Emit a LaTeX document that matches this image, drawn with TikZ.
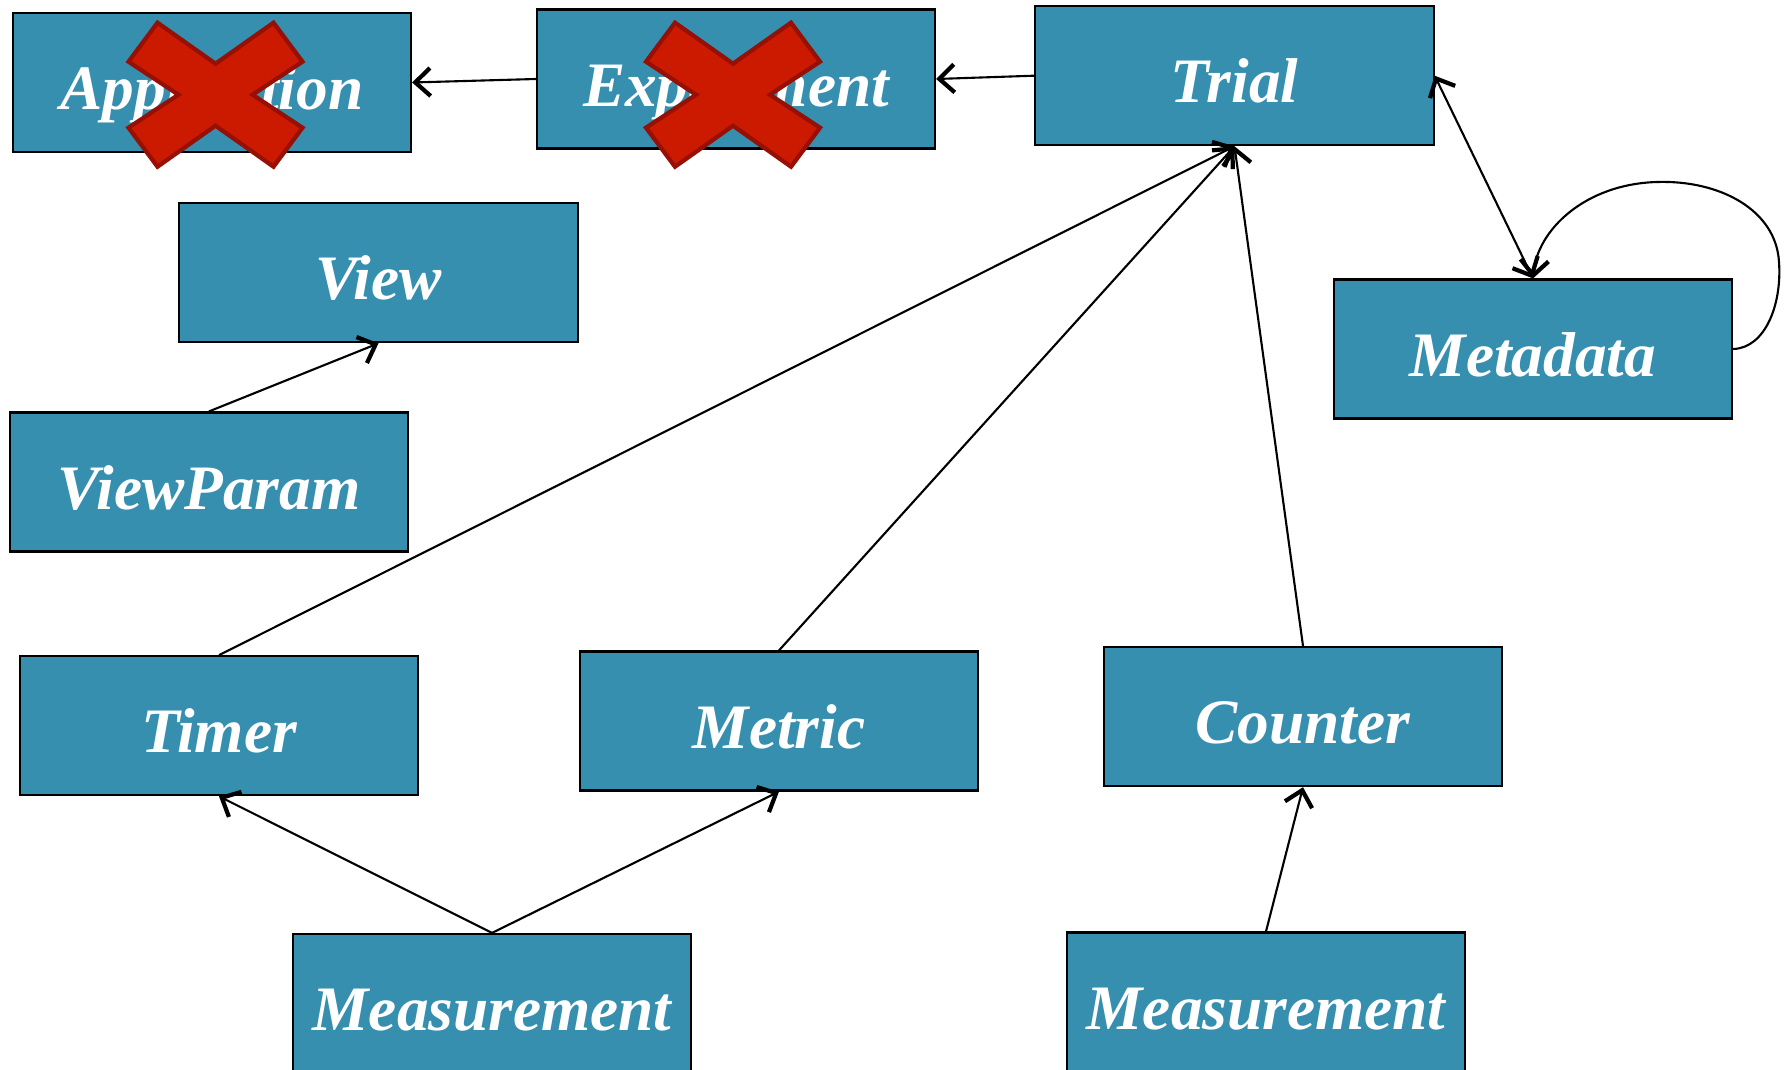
\documentclass[tikz,border=0pt]{standalone}
\usepackage{fontspec}
\setmainfont{Liberation Serif}
\usetikzlibrary{arrows.meta}
\definecolor{boxfill}{RGB}{54,143,175}
\definecolor{xfill}{RGB}{204,26,0}
\definecolor{xedge}{RGB}{150,16,6}

\begin{document}
\begin{tikzpicture}[x=0.01cm,y=-0.01cm,
  cls/.style={draw=black, line width=0.6pt, fill=boxfill,
    minimum width=3.98cm, minimum height=1.39cm, inner sep=0pt,
    text height=0.54cm, text depth=0cm,
    text=white, font=\fontsize{18}{20}\selectfont\bfseries\itshape},
  barb/.tip={Straight Barb[length=1.5mm,width=2.8mm,line width=1.2pt]},
  link/.style={draw=black, line width=0.6pt, -barb},
  dlink/.style={draw=black, line width=0.6pt, barb-barb},
  cross/.style={fill=xfill, draw=xedge, line width=1.2pt, line join=miter},
  xmark/.pic={
    \draw[cross] (-58,-72) -- (0,-31) -- (58,-72) -- (87,-33) -- (37,0)
      -- (87,33) -- (58,72) -- (0,31) -- (-58,72) -- (-87,33) -- (-37,0)
      -- (-87,-33) -- cycle;
  }]
\clip (0,0) rectangle (1785,1070);

% classes
\node[cls] (app)     at (212,82.5)   {Application};
\node[cls] (exp)     at (736,79)     {Experiment};
\node[cls] (trial)   at (1234.5,75.7){Trial};
\node[cls] (view)    at (378.5,272.7){View};
\node[cls] (vparam)  at (209,482)    {ViewParam};
\node[cls] (meta)    at (1533,349)   {Metadata};
\node[cls] (timer)   at (219,725.7)  {Timer};
\node[cls] (metric)  at (779,721)    {Metric};
\node[cls] (counter) at (1303,716.6) {Counter};
\node[cls] (meas1)   at (492,1003.5) {Measurement};
\node[cls] (meas2)   at (1266,1002)  {Measurement};

% associations
\draw[link] (exp.west) -- (app.east);
\draw[link] (trial.west) -- (exp.east);
\draw[link] (vparam.north) -- (view.south);
\draw[link] (timer.north) -- (trial.south);
\draw[link] (metric.north) -- (trial.south);
\draw[link] (counter.north) -- (trial.south);
\draw[dlink] (trial.east) -- (meta.north);
\draw[link] (meas1.north) -- (timer.south);
\draw[link] (meas1.north) -- (metric.south);
\draw[link] (meas2.north) -- (counter.south);

% self reference on Metadata
\coordinate (loopR) at (1779,262);
\coordinate (loopT) at (1657,182);
\draw[link] (meta.east) .. controls (1765,348) and (1782,305) .. (loopR)
  .. controls (1776,210) and (1720,180) .. (loopT)
  .. controls (1585,184) and (1537,230) .. (meta.north);

% removed classes
\pic at (215.5,94.7) {xmark};
\pic at (733,94.7) {xmark};
\end{tikzpicture}
\end{document}
